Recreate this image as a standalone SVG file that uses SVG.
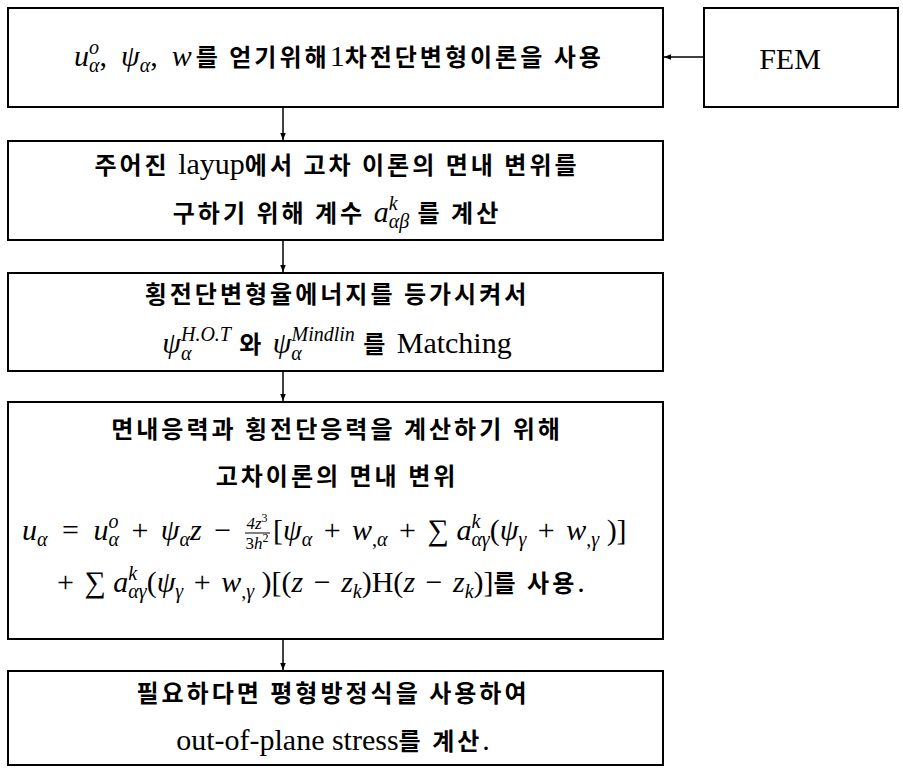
<svg xmlns="http://www.w3.org/2000/svg" width="903" height="772" viewBox="0 0 903 772">
<defs>
<marker id="ah" viewBox="0 0 10 10" refX="10" refY="5" markerWidth="7" markerHeight="7" orient="auto" markerUnits="userSpaceOnUse">
<path d="M0,1 L10,5 L0,9 z" fill="#000"/>
</marker>
<style>
.box{fill:#fff;stroke:#000;stroke-width:2}
.t{font-family:"Liberation Serif","Noto Sans CJK KR",serif;font-size:30px;fill:#000}
.k{font-family:"Noto Sans CJK KR","Noto Sans",sans-serif;font-weight:700;font-size:24px;letter-spacing:3px}
.m{font-style:italic}
.s{font-size:20px}
.f{font-size:17px}
.c{stroke:#000;stroke-width:1.5;fill:none}
</style>
</defs>
<rect width="903" height="772" fill="#fff"/>
<g id="connectors">
<line class="c" x1="704" y1="57" x2="664" y2="57" marker-end="url(#ah)"/>
<line class="c" x1="283" y1="108" x2="283" y2="140" marker-end="url(#ah)"/>
<line class="c" x1="283" y1="241" x2="283" y2="272" marker-end="url(#ah)"/>
<line class="c" x1="283" y1="372" x2="283" y2="401" marker-end="url(#ah)"/>
<line class="c" x1="283" y1="640" x2="283" y2="670" marker-end="url(#ah)"/>
</g>
<g id="n1">
<rect class="box" x="8" y="8" width="655" height="99"/>
<text class="t" x="339" y="66" text-anchor="middle" font-size="32"><tspan class="m">u</tspan><tspan class="s m" dy="-12">o</tspan><tspan class="s m" dx="-10" dy="18">α</tspan><tspan dy="-6">,</tspan><tspan class="m" dx="14">ψ</tspan><tspan class="s m" dy="6">α</tspan><tspan dy="-6">,</tspan><tspan class="m" dx="14">w</tspan><tspan class="k" dx="4">를 얻기위해</tspan>1<tspan class="k">차전단변형이론을 사용</tspan></text>
</g>
<g id="fem">
<rect class="box" x="704" y="8" width="194" height="99"/>
<text class="t" x="790" y="69" text-anchor="middle" font-size="34">FEM</text>
</g>
<g id="n2">
<rect class="box" x="8" y="141" width="655" height="99"/>
<text class="t" x="337" y="174" text-anchor="middle"><tspan class="k">주어진 </tspan>layup<tspan class="k">에서 고차 이론의 면내 변위를</tspan></text>
<text class="t" x="337" y="222" text-anchor="middle"><tspan class="k">구하기 위해 계수 </tspan><tspan class="m">a</tspan><tspan class="s m" dy="-12">k</tspan><tspan class="s m" dx="-8.9" dy="18">αβ</tspan><tspan class="k" dy="-6"> 를 계산</tspan></text>
</g>
<g id="n3">
<rect class="box" x="8" y="273" width="655" height="98"/>
<text class="t" x="337" y="303" text-anchor="middle"><tspan class="k">횡전단변형율에너지를 등가시켜서</tspan></text>
<text class="t" x="337" y="353" text-anchor="middle"><tspan class="m">ψ</tspan><tspan class="s m" dy="-12">H.O.T</tspan><tspan class="s m" dx="-49.9" dy="19">α</tspan><tspan class="k" dx="39.3" dy="-7"> 와 </tspan><tspan class="m">ψ</tspan><tspan class="s m" dy="-12">Mindlin</tspan><tspan class="s m" dx="-63.5" dy="19">α</tspan><tspan class="k" dx="52.9" dy="-7"> 를 </tspan>Matching</text>
</g>
<g id="n4">
<rect class="box" x="8" y="402" width="655" height="237"/>
<text class="t" x="337" y="438" text-anchor="middle"><tspan class="k">면내응력과 횡전단응력을 계산하기 위해</tspan></text>
<text class="t" x="337" y="485" text-anchor="middle"><tspan class="k">고차이론의 면내 변위</tspan></text>
<text class="t" x="22" y="540"><tspan class="m">u</tspan><tspan class="s m" dy="6">α</tspan><tspan dx="7" dy="-6"> = </tspan><tspan class="m" dx="7">u</tspan><tspan class="s m" dy="-12">o</tspan><tspan class="s m" dx="-10" dy="18">α</tspan><tspan dx="5" dy="-6"> + </tspan><tspan class="m" dx="5">ψ</tspan><tspan class="s m" dy="6">α</tspan><tspan class="m" dy="-6">z</tspan><tspan dx="5"> −</tspan></text>
<text class="t f" x="257" y="529" text-anchor="middle"><tspan class="m">4z</tspan><tspan font-size="12" dy="-7">3</tspan></text>
<line x1="245" y1="533" x2="270" y2="533" stroke="#000" stroke-width="1"/>
<text class="t f" x="257" y="549" text-anchor="middle">3<tspan class="m">h</tspan><tspan font-size="12" dy="-7">2</tspan></text>
<text class="t" x="273" y="540">[<tspan class="m">ψ</tspan><tspan class="s m" dy="6">α</tspan><tspan dx="4" dy="-6"> + </tspan><tspan class="m" dx="4">w</tspan><tspan class="s" dy="6">,</tspan><tspan class="s m">α</tspan><tspan dx="4" dy="-6"> + </tspan><tspan dx="4">∑ </tspan><tspan class="m">a</tspan><tspan class="s m" dy="-12">k</tspan><tspan class="s m" dx="-8.9" dy="18">αγ</tspan><tspan dy="-6">(</tspan><tspan class="m">ψ</tspan><tspan class="s m" dy="6">γ</tspan><tspan dx="4" dy="-6"> + </tspan><tspan class="m" dx="4">w</tspan><tspan class="s" dy="6">,</tspan><tspan class="s m">γ</tspan><tspan dy="-6"> )]</tspan></text>
<text class="t" x="57" y="592">+ <tspan dx="3">∑ </tspan><tspan class="m">a</tspan><tspan class="s m" dy="-12">k</tspan><tspan class="s m" dx="-8.9" dy="18">αγ</tspan><tspan dy="-6">(</tspan><tspan class="m">ψ</tspan><tspan class="s m" dy="6">γ</tspan><tspan dx="3" dy="-6"> + </tspan><tspan class="m" dx="3">w</tspan><tspan class="s" dy="6">,</tspan><tspan class="s m">γ</tspan><tspan dy="-6"> )[(</tspan><tspan class="m">z</tspan><tspan dx="3"> − </tspan><tspan class="m" dx="3">z</tspan><tspan class="s m" dy="6">k</tspan><tspan dy="-6">)H(</tspan><tspan class="m">z</tspan><tspan dx="3"> − </tspan><tspan class="m" dx="3">z</tspan><tspan class="s m" dy="6">k</tspan><tspan dy="-6">)]</tspan><tspan class="k">를 사용</tspan>.</text>
</g>
<g id="n5">
<rect class="box" x="8" y="671" width="655" height="94"/>
<text class="t" x="333" y="702" text-anchor="middle"><tspan class="k">필요하다면 평형방정식을 사용하여</tspan></text>
<text class="t" x="333" y="750" text-anchor="middle">out-of-plane stress<tspan class="k">를 계산</tspan>.</text>
</g>
</svg>
